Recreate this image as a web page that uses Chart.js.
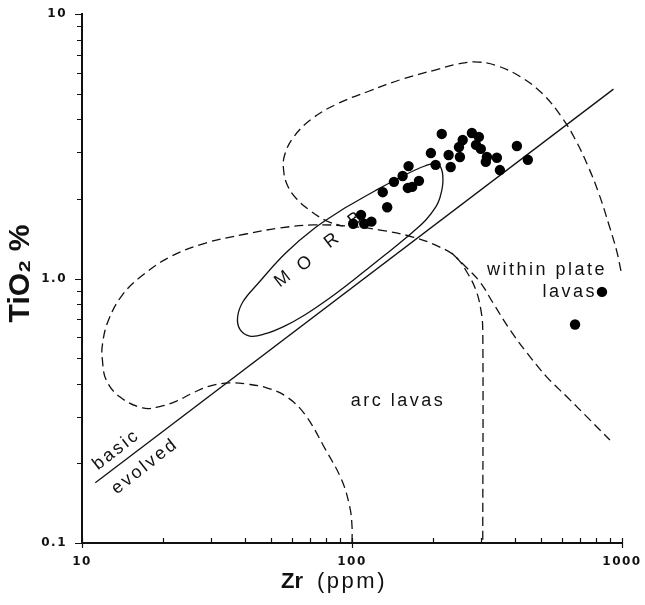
<!DOCTYPE html>
<html>
<head>
<meta charset="utf-8">
<title>TiO2 vs Zr</title>
<script src="https://cdn.jsdelivr.net/npm/chart.js@4.4.1/dist/chart.umd.min.js"></script>
<style>
  html, body { margin: 0; padding: 0; background: #fff; }
</style>
</head>
<body>
<canvas id="chart" width="645" height="605"></canvas>
<script>
// samples: Zr (ppm) and TiO2 (%)
const sampleZr = [215, 196, 204, 232, 228, 251, 249, 257, 278, 295, 288, 300, 316, 313, 344, 353, 408, 448,
  162, 154, 143, 130, 177, 161, 167, 135, 108, 101, 111, 118, 843, 670];
const sampleTi = [3.52, 2.98, 2.69, 2.64, 2.93, 2.88, 3.14, 3.34, 3.55, 3.43, 3.20, 3.09, 2.88, 2.76, 2.86, 2.57, 3.17, 2.81,
  2.66, 2.44, 2.32, 2.12, 2.34, 2.20, 2.22, 1.86, 1.74, 1.61, 1.61, 1.64, 0.89, 0.67];

// MORB field (closed, solid)
const morbZr = [94.0, 121.4, 154.3, 186.1, 206.2, 215.1, 216.9, 211.5, 204.4, 187.7, 168.0, 150.3, 132.3,
  116.4, 102.4, 82.7, 66.8, 56.3, 47.5, 41.8, 38.4, 37.7, 39.4, 44.7, 56.8, 72.8, 94.0];
const morbTi = [1.847, 2.142, 2.441, 2.663, 2.721, 2.572, 2.277, 2.015, 1.864, 1.664, 1.499, 1.362, 1.227,
  1.105, 0.996, 0.844, 0.728, 0.661, 0.617, 0.606, 0.644, 0.715, 0.815, 0.953, 1.248, 1.552, 1.847];

// within plate field, upper loop (dashed)
const wplZr = [991, 958, 895, 822, 748, 670, 594, 509, 422, 347, 293, 247, 203, 154, 116, 87.8, 70.9, 60.8,
  56.3, 55.8, 57.8, 62.4, 70.3, 80.6, 92.4];
const wplTi = [1.068, 1.259, 1.594, 2.086, 2.663, 3.369, 4.115, 4.983, 5.778, 6.358, 6.583, 6.471, 6.141,
  5.679, 5.115, 4.567, 4.009, 3.428, 2.930, 2.572, 2.237, 1.998, 1.800, 1.650, 1.579];

// within plate field, lower branch (dashed)
const wplTailZr = [234, 262, 298, 333, 385, 445, 527, 625, 761, 902];
const wplTailTi = [1.248, 1.115, 0.970, 0.808, 0.639, 0.523, 0.424, 0.357, 0.292, 0.245];

// arc lavas field (dashed), from Zr=100 round to Zr=300
const arcZr = [100, 100, 98.1, 91.6, 79.9, 66.8, 57.3, 48.3, 40.7, 35.2, 29.7, 25.7, 22.4, 19.4, 16.8, 13.8,
  12.3, 11.9, 11.9, 12.5, 14.1, 16.8, 21.5, 28.7, 40.4, 54.0, 71.5, 95.6, 126.8, 168.0, 211.5, 242.4, 266.3,
  287.6, 300.2, 305, 305];
const arcTi = [0.1, 0.116, 0.137, 0.173, 0.225, 0.307, 0.357, 0.386, 0.399, 0.403, 0.392, 0.369, 0.344, 0.328,
  0.324, 0.357, 0.413, 0.492, 0.561, 0.691, 0.866, 1.031, 1.216, 1.362, 1.473, 1.552, 1.594, 1.579, 1.525,
  1.435, 1.315, 1.206, 1.058, 0.905, 0.760, 0.639, 0.1];

// basic / evolved divide
const divideZr = [11.2, 930];
const divideTi = [0.169, 5.2];

// axis ticks
const xMajor = [10, 100, 1000];
const xMinor = [20, 30, 40, 50, 60, 70, 80, 90, 200, 300, 400, 500, 600, 700, 800, 900];
const yMajor = [0.1, 1, 10];
const yMinor = [0.2, 0.3, 0.4, 0.5, 0.6, 0.7, 0.8, 0.9, 2, 3, 4, 5, 6, 7, 8, 9];
const yTickText = { 0.1: "0.1", 1: "1.0", 10: "10" };

// field names, anchored in data units
const fieldLabels = [
  { text: "within plate", zr: 880, ti: 1.031, align: "right", base: "alphabetic", angle: 0 },
  { text: "lavas", zr: 808, ti: 0.851, align: "right", base: "alphabetic", angle: 0 },
  { text: "arc lavas", zr: 148, ti: 0.33, align: "center", base: "alphabetic", angle: 0 },
  { text: "basic", zr: 13.4, ti: 0.225, align: "center", base: "middle", angle: -38 },
  { text: "evolved", zr: 17.1, ti: 0.195, align: "center", base: "middle", angle: -38 },
  { text: "M", zr: 55.8, ti: 1.0, align: "center", base: "middle", angle: -38 },
  { text: "O", zr: 67.4, ti: 1.144, align: "center", base: "middle", angle: -38 },
  { text: "R", zr: 84.8, ti: 1.398, align: "center", base: "middle", angle: -38 },
  { text: "B", zr: 103.3, ti: 1.685, align: "center", base: "middle", angle: -38 }
];

const INK = "#111";
const SANS = '"Liberation Sans", Arial, sans-serif';
const pts = (xs, ys) => xs.map((x, i) => ({ x, y: ys[i] }));

function outline(xs, ys, dashed, tension){
  return {
    data: pts(xs, ys),
    showLine: true,
    borderColor: INK,
    borderWidth: 1.3,
    borderDash: dashed ? [9, 5] : [],
    tension: tension,
    pointRadius: 0,
    fill: false
  };
}

const fieldText = {
  id: "fieldText",
  beforeDatasetsDraw(chart){
    const { ctx, scales: { x, y } } = chart;
    ctx.save();
    ctx.fillStyle = INK;
    ctx.font = "18px " + SANS;
    ctx.letterSpacing = "2.5px";
    for(const n of fieldLabels){
      ctx.save();
      ctx.translate(x.getPixelForValue(n.zr), y.getPixelForValue(n.ti));
      ctx.rotate(n.angle * Math.PI / 180);
      ctx.textAlign = n.align;
      ctx.textBaseline = n.base;
      ctx.fillText(n.text, 0, 0);
      ctx.restore();
    }
    ctx.restore();
  }
};

// tick marks (y ticks out, x minor ticks in) and the two axis titles
const axisDecor = {
  id: "axisDecor",
  beforeDraw(chart){ chart.ctx.letterSpacing = "1.5px"; },
  afterDraw(chart){
    const { ctx, chartArea: a, scales: { x, y } } = chart;
    ctx.save();
    ctx.letterSpacing = "0px";
    ctx.strokeStyle = INK;
    ctx.lineWidth = 1.2;
    ctx.beginPath();
    for(const v of yMajor.concat(yMinor)){
      const py = Math.round(y.getPixelForValue(v)) + 0.5;
      const len = yMajor.includes(v) ? 7 : 5;
      ctx.moveTo(a.left - len, py);
      ctx.lineTo(a.left, py);
    }
    for(const v of xMinor){
      const px = Math.round(x.getPixelForValue(v)) + 0.5;
      ctx.moveTo(px, a.bottom);
      ctx.lineTo(px, a.bottom - 5);
    }
    for(const v of xMajor){
      const px = Math.round(x.getPixelForValue(v)) + 0.5;
      ctx.moveTo(px, a.bottom + 5);
      ctx.lineTo(px, a.bottom - 5);
    }
    ctx.stroke();

    ctx.fillStyle = INK;

    // y title
    ctx.save();
    ctx.translate(21, (a.top + a.bottom) / 2 - 5);
    ctx.rotate(-Math.PI / 2);
    ctx.font = "bold 30px " + SANS;
    ctx.textAlign = "center";
    ctx.textBaseline = "middle";
    ctx.fillText("TiO\u2082 %", 0, 0);
    ctx.restore();

    // x title: bold element, plain unit
    const cx = (a.left + a.right) / 2 - 18;
    const base = a.bottom + 45;
    ctx.textBaseline = "alphabetic";
    ctx.textAlign = "left";
    ctx.font = "bold 22px " + SANS;
    const w1 = ctx.measureText("Zr").width;
    ctx.font = "22px " + SANS;
    ctx.letterSpacing = "2.5px";
    const w2 = ctx.measureText("(ppm)").width;
    const gap = 14;
    const start = cx - (w1 + gap + w2) / 2;
    ctx.letterSpacing = "0px";
    ctx.font = "bold 22px " + SANS;
    ctx.fillText("Zr", start, base);
    ctx.font = "22px " + SANS;
    ctx.letterSpacing = "2.5px";
    ctx.fillText("(ppm)", start + w1 + gap, base);
    ctx.restore();
    ctx.letterSpacing = "0px";
  }
};

const tickFont = { family: '"DejaVu Sans", sans-serif', weight: "bold", size: 12 };

new Chart(document.getElementById("chart"), {
  type: "scatter",
  data: {
    datasets: [
      {
        data: pts(sampleZr, sampleTi),
        pointRadius: 5.2,
        pointBackgroundColor: "#000",
        pointBorderWidth: 0,
        showLine: false
      },
      outline(divideZr, divideTi, false, 0),
      outline(morbZr, morbTi, false, 0.4),
      outline(wplZr, wplTi, true, 0.4),
      outline(wplTailZr, wplTailTi, true, 0.4),
      outline(arcZr, arcTi, true, 0.4)
    ]
  },
  options: {
    responsive: false,
    animation: false,
    layout: { padding: { left: 0, right: 23, top: 14, bottom: 0 } },
    plugins: { legend: { display: false }, tooltip: { enabled: false } },
    scales: {
      x: {
        type: "logarithmic",
        min: 10,
        max: 1000,
        afterBuildTicks: s => { s.ticks = xMajor.map(v => ({ value: v })); },
        afterFit: s => { s.height = 62; s.paddingLeft = 0; s.paddingRight = 0; },
        grid: { display: false, drawTicks: false },
        border: { display: true, color: INK, width: 2 },
        ticks: {
          autoSkip: false, maxRotation: 0, padding: 12, color: INK, font: tickFont,
          callback: v => String(v)
        }
      },
      y: {
        type: "logarithmic",
        min: 0.1,
        max: 10,
        afterBuildTicks: s => { s.ticks = yMajor.map(v => ({ value: v })); },
        afterFit: s => { s.width = 82; s.paddingTop = 0; s.paddingBottom = 0; },
        grid: { display: false, drawTicks: false },
        border: { display: true, color: INK, width: 2 },
        ticks: {
          autoSkip: false, padding: 15, color: INK, font: tickFont,
          callback: v => yTickText[v] || ""
        }
      }
    }
  },
  plugins: [fieldText, axisDecor]
});
</script>
</body>
</html>
